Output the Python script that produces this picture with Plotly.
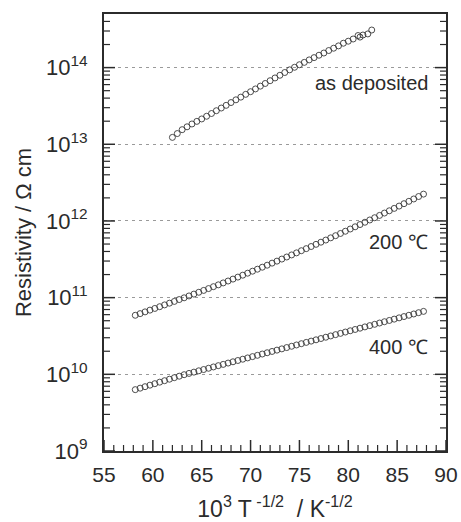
import math
import plotly.graph_objects as go

# x axis: 10^3 T^-1/2 (K^-1/2)
x_asdep = [62.0, 62.5, 63.0, 63.5, 64.0, 64.5, 65.0, 65.5, 66.0, 66.5, 67.0, 67.5, 68.0, 68.5,
           69.0, 69.5, 70.0, 70.5, 71.0, 71.5, 72.0, 72.5, 73.0, 73.5, 74.0, 74.5, 75.0, 75.5,
           76.0, 76.5, 77.0, 77.5, 78.0, 78.5, 79.0, 79.5, 80.0, 80.5, 81.0, 81.2, 81.5, 82.0, 82.4]
rho_asdep = [1.23e13, 1.38e13, 1.55e13, 1.69e13, 1.84e13, 1.99e13, 2.14e13, 2.32e13, 2.52e13,
             2.74e13, 2.97e13, 3.22e13, 3.50e13, 3.80e13, 4.12e13, 4.48e13, 4.85e13, 5.27e13,
             5.73e13, 6.21e13, 6.75e13, 7.33e13, 7.94e13, 8.63e13, 9.35e13, 1.01e14, 1.09e14,
             1.17e14, 1.26e14, 1.35e14, 1.45e14, 1.55e14, 1.67e14, 1.79e14, 1.92e14, 2.08e14,
             2.21e14, 2.36e14, 2.62e14, 2.50e14, 2.66e14, 2.75e14, 3.09e14]

x_200 = [58.2, 58.7, 59.2, 59.7, 60.2, 60.7, 61.2, 61.7, 62.2, 62.7, 63.2, 63.7, 64.2, 64.7,
         65.2, 65.7, 66.2, 66.7, 67.2, 67.7, 68.2, 68.7, 69.2, 69.7, 70.2, 70.7, 71.2, 71.7,
         72.2, 72.7, 73.2, 73.7, 74.2, 74.7, 75.2, 75.7, 76.2, 76.7, 77.2, 77.7, 78.2, 78.7,
         79.2, 79.7, 80.2, 80.7, 81.2, 81.7, 82.2, 82.7, 83.2, 83.7, 84.2, 84.7, 85.2, 85.7,
         86.2, 86.7, 87.2, 87.7]
rho_200 = [5.89e10, 6.19e10, 6.52e10, 6.87e10, 7.23e10, 7.62e10, 8.04e10, 8.47e10, 8.93e10,
           9.44e10, 9.95e10, 1.052e11, 1.112e11, 1.175e11, 1.242e11, 1.313e11, 1.390e11,
           1.469e11, 1.556e11, 1.648e11, 1.746e11, 1.853e11, 1.963e11, 2.084e11, 2.213e11,
           2.350e11, 2.495e11, 2.649e11, 2.818e11, 2.992e11, 3.184e11, 3.388e11, 3.606e11,
           3.837e11, 4.093e11, 4.355e11, 4.645e11, 4.955e11, 5.284e11, 5.636e11, 6.026e11,
           6.427e11, 6.871e11, 7.345e11, 7.852e11, 8.395e11, 8.974e11, 9.616e11, 1.030e12,
           1.102e12, 1.181e12, 1.268e12, 1.358e12, 1.459e12, 1.563e12, 1.679e12, 1.803e12,
           1.936e12, 2.084e12, 2.239e12]

x_400 = list(x_200)
rho_400 = [6.31e9, 6.60e9, 6.90e9, 7.22e9, 7.55e9, 7.90e9, 8.26e9, 8.64e9, 9.04e9, 9.45e9,
           9.89e9, 1.028e10, 1.068e10, 1.111e10, 1.155e10, 1.200e10, 1.248e10, 1.297e10,
           1.348e10, 1.402e10, 1.457e10, 1.515e10, 1.575e10, 1.637e10, 1.702e10, 1.769e10,
           1.839e10, 1.912e10, 1.988e10, 2.067e10, 2.148e10, 2.234e10, 2.322e10, 2.414e10,
           2.509e10, 2.608e10, 2.711e10, 2.818e10, 2.930e10, 3.046e10, 3.166e10, 3.292e10,
           3.421e10, 3.557e10, 3.698e10, 3.844e10, 3.996e10, 4.154e10, 4.318e10, 4.489e10,
           4.667e10, 4.851e10, 5.043e10, 5.243e10, 5.450e10, 5.666e10, 5.890e10, 6.124e10,
           6.365e10, 6.617e10]

# axis ticks
x_major = [55, 60, 65, 70, 75, 80, 85, 90]
x_minor = [v for v in range(56, 90) if v % 5 != 0]
decades = [1e9, 1e10, 1e11, 1e12, 1e13, 1e14]
decade_labels = ["10<sup>9</sup>", "10<sup>10</sup>", "10<sup>11</sup>", "10<sup>12</sup>",
                 "10<sup>13</sup>", "10<sup>14</sup>"]
y_minor = [m * 10.0 ** e for e in range(9, 15) for m in range(2, 10) if m * 10.0 ** e < 5e14]

labels = ["as deposited", "200 ℃", "400 ℃"]
label_y = [13.80, 11.72, 10.35]  # log10 positions of the labels

X_RANGE = [55, 90]
Y_RANGE = [9, 14.699]

W, H = 461, 522
M = dict(l=104, r=15, t=14, b=71)
PX_PER_X = (W - M["l"] - M["r"]) / (X_RANGE[1] - X_RANGE[0])
PX_PER_DEC = (H - M["t"] - M["b"]) / (Y_RANGE[1] - Y_RANGE[0])

INK = "#2b2b2b"
FONT = "Liberation Sans, Arial, sans-serif"

fig = go.Figure()
marker = dict(symbol="circle-open", size=6, color="#3a3a3a", line=dict(width=0.9, color="#3a3a3a"))
for xs, ys in [(x_asdep, rho_asdep), (x_200, rho_200), (x_400, rho_400)]:
    fig.add_trace(go.Scatter(x=xs, y=ys, mode="markers", marker=marker, showlegend=False,
                             hoverinfo="skip"))


# inside tick marks as line segments, lengths converted from pixels through the axis scales
def tick_trace(xvals, yvals, length, width):
    tx, ty = [], []
    y_lo = 10 ** Y_RANGE[0]
    for v in xvals:
        tx += [v, v, None]
        ty += [y_lo, 10 ** (Y_RANGE[0] + length / PX_PER_DEC), None]
    dx = length / PX_PER_X
    for v in yvals:
        tx += [X_RANGE[0], X_RANGE[0] + dx, None, X_RANGE[1], X_RANGE[1] - dx, None]
        ty += [v, v, None, v, v, None]
    return go.Scatter(x=tx, y=ty, mode="lines", line=dict(color=INK, width=width),
                      showlegend=False, hoverinfo="skip", cliponaxis=False)


fig.add_trace(tick_trace(x_major, decades, 11, 1.5))
fig.add_trace(tick_trace(x_minor, y_minor, 6, 1.2))

for t, ly in zip(labels, label_y):
    fig.add_annotation(x=88.36, y=ly, text=t, showarrow=False, xanchor="right", yanchor="middle",
                       font=dict(family=FONT, size=20, color=INK))

fig.update_layout(
    width=W, height=H,
    margin=dict(**M, autoexpand=False),
    paper_bgcolor="white", plot_bgcolor="white",
    font=dict(family=FONT, color=INK),
    xaxis=dict(
        range=X_RANGE, tickmode="array", tickvals=x_major, automargin=False,
        showline=True, linecolor=INK, linewidth=2, mirror=True,
        ticks="", tickfont=dict(size=21, family=FONT, color=INK),
        ticklabelstandoff=4,
        showgrid=False, zeroline=False,
        title=dict(text="10<sup>3</sup> T<sup> -1/2</sup>  / K<sup>-1/2</sup>",
                   font=dict(size=23, family=FONT, color=INK), standoff=17),
    ),
    yaxis=dict(
        type="log", range=Y_RANGE, automargin=False,
        tickmode="array", tickvals=decades, ticktext=decade_labels,
        showline=True, linecolor=INK, linewidth=2, mirror=True,
        ticks="", tickfont=dict(size=22, family=FONT, color=INK),
        ticklabelstandoff=10,
        showgrid=True, gridcolor="#9a9a9a", gridwidth=1, griddash="3px,4px",
        zeroline=False,
        title=dict(text="Resistivity / Ω cm", font=dict(size=22, family=FONT, color=INK), standoff=8),
    ),
)

fig.write_html(
    "out.html",
    config={"displayModeBar": False},
    post_script="document.body.style.margin='0';document.body.style.overflow='hidden';",
)
